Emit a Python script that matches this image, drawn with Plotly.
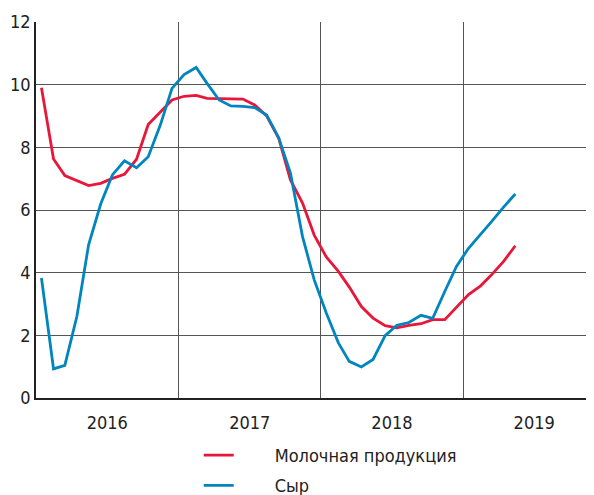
import pandas as pd
import plotly.graph_objects as go

months = pd.date_range("2016-01-01", "2019-05-01", freq="MS") + pd.Timedelta(days=14)

dairy = [9.90, 7.63, 7.10, 6.94, 6.78, 6.85, 7.01, 7.14, 7.62, 8.73,
         9.13, 9.51, 9.63, 9.66, 9.56, 9.55, 9.54, 9.54, 9.35, 9.00,
         8.29, 6.96, 6.22, 5.20, 4.50, 4.04, 3.54, 2.92, 2.55, 2.31,
         2.24, 2.32, 2.37, 2.50, 2.50, 2.88, 3.30, 3.58, 3.93, 4.36,
         4.86]
cheese = [3.83, 0.93, 1.04, 2.61, 4.89, 6.19, 7.12, 7.57, 7.35, 7.70,
          8.71, 9.88, 10.32, 10.55, 10.04, 9.51, 9.32, 9.31, 9.27, 9.03,
          8.30, 7.18, 5.15, 3.77, 2.71, 1.76, 1.17, 0.99, 1.23, 1.99,
          2.32, 2.41, 2.64, 2.54, 3.40, 4.20, 4.78, 5.21, 5.63, 6.09,
          6.51]

names = ["Молочная продукция", "Сыр"]
colors = ["#E8173A", "#0085BF"]
y_ticks = [0, 2, 4, 6, 8, 10, 12]

FONT = "Liberation Sans Narrow, DejaVu Sans Condensed, Arial Narrow, sans-serif"
FS = 18
pad = "\u00a0" * 7

fig = go.Figure()
for name, vals, col in zip(names, [dairy, cheese], colors):
    fig.add_trace(go.Scatter(
        x=months, y=vals, mode="lines", name=pad + name,
        legendgroup=name,
        line=dict(color=col, width=2.8),
    ))

fig.update_layout(
    width=586, height=487,
    margin=dict(l=28, r=0, t=14, b=96.5, autoexpand=False),
    paper_bgcolor="white", plot_bgcolor="white",
    font=dict(family=FONT, size=FS, color="#222222"),
    showlegend=True,
    legend=dict(
        x=0.2916, y=-0.1033, xanchor="left", yanchor="top",
        orientation="v", bgcolor="rgba(0,0,0,0)",
        font=dict(family=FONT, size=FS, color="#222222"),
        tracegroupgap=4,
    ),
    xaxis=dict(
        type="date",
        range=["2016-01-01", "2019-12-03"],
        dtick="M12", tick0="2016-01-01",
        tickformat="%Y", ticklabelmode="period",
        showgrid=True, gridcolor="#555555", gridwidth=1.3,
        showline=True, linecolor="#222222", linewidth=1.5,
        ticks="", zeroline=False, automargin=False,
        ticklabelstandoff=8,
        tickfont=dict(family=FONT, size=FS, color="#222222"),
    ),
    yaxis=dict(
        range=[0, 12], tickvals=y_ticks,
        showgrid=True, gridcolor="#555555", gridwidth=1.3,
        showline=True, linecolor="#222222", linewidth=1.5,
        ticks="", zeroline=False, automargin=False,
        tickfont=dict(family=FONT, size=FS, color="#222222"),
    ),
)

fig.write_html("out.html")
